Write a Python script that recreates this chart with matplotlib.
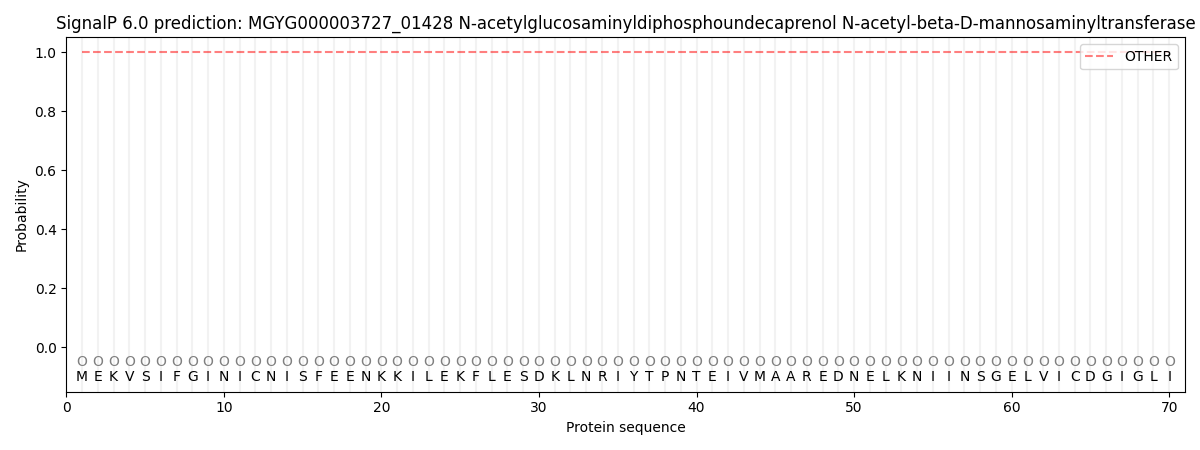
import numpy as np
import matplotlib
matplotlib.use("Agg")
import matplotlib.pyplot as plt

title = "SignalP 6.0 prediction: MGYG000003727_01428 N-acetylglucosaminyldiphosphoundecaprenol N-acetyl-beta-D-mannosaminyltransferase"
sequence = "MEKVSIFGINICNISFEENKKILEKFLESDKLNRIYTPNTEIVMAAREDNELKNIINSGELVICDGIGLI"
labels = ["O"] * len(sequence)
other_prob = [1.0] * len(sequence)

positions = np.arange(1, len(sequence) + 1)

fig, ax = plt.subplots(figsize=(12, 4.5), dpi=100)

# light vertical grid at each residue
for p in positions:
    ax.axvline(p, color="#f2f2f2", linewidth=1.5, zorder=0)

ax.plot(positions, other_prob, linestyle="--", color="red", alpha=0.5, label="OTHER")

for p, lab, aa in zip(positions, labels, sequence):
    ax.text(p, -0.05, lab, ha="center", va="center", fontsize=10, color="gray")
    ax.text(p, -0.1, aa, ha="center", va="center", fontsize=10)

ax.set_xlim(0, len(sequence) + 1)
ax.set_ylim(-0.15, 1.05)
ax.set_xlabel("Protein sequence")
ax.set_ylabel("Probability")
ax.set_title(title)
ax.legend(loc="upper right")

plt.tight_layout()
plt.savefig("out.png")
